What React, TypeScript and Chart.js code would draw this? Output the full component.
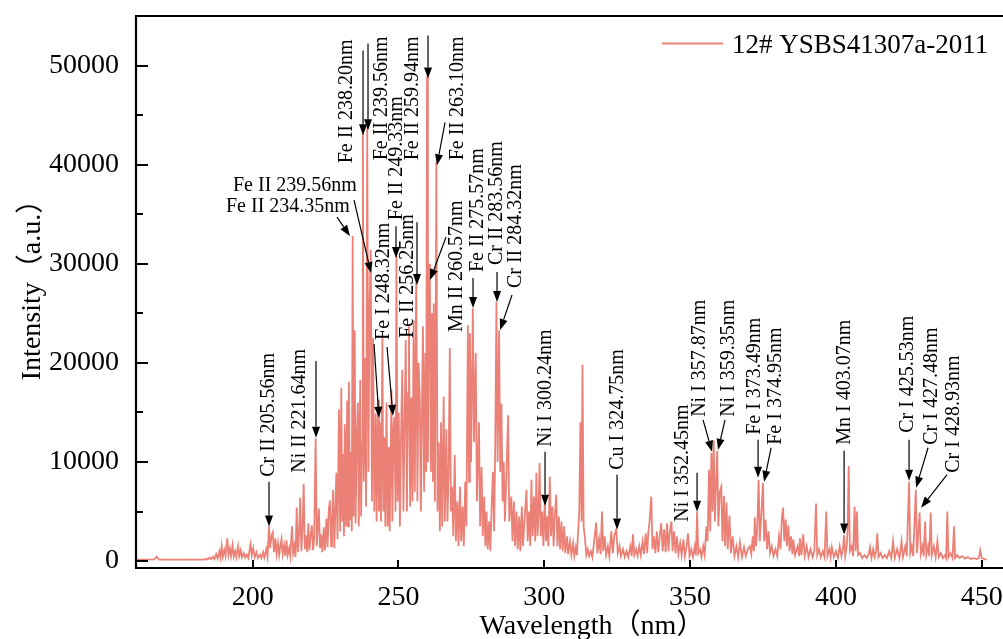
import React, { useEffect, useRef } from 'react';
import { Chart, registerables } from 'chart.js';

Chart.register(...registerables);

const SERIES_LABEL = '12# YSBS41307a-2011';
const X_TITLE = 'Wavelength（nm）';
const Y_TITLE = 'Intensity（a.u.）';
const LINE_COLOR = '#EB8176';
const SERIF = '"Liberation Serif", "Times New Roman", "Noto Sans CJK SC", serif';

const xTicks = [200, 250, 300, 350, 400, 450];
const yTicks = [0, 10000, 20000, 30000, 40000, 50000];
const yMinorTicks = [5000, 15000, 25000, 35000, 45000, 55000];

// [wavelength nm, intensity a.u.]
const band160to203: [number, number][] = [
  [160, 150], [166.3, 160], [167.1, 450], [167.9, 150], [183.5, 150], [184.2, 250], [184.6, 150],
  [185.3, 350], [185.8, 180], [186.4, 450], [186.9, 200], [187.5, 700], [188.0, 250], [188.6, 1000],
  [189.0, 350], [189.4, 1500], [189.8, 450], [190.3, 1100], [190.7, 500], [191.3, 2300], [191.7, 600],
  [192.2, 1300], [192.6, 500], [193.1, 1600], [193.5, 450], [194.0, 1000], [194.4, 400], [195.0, 1500],
  [195.4, 500], [195.9, 1100], [196.3, 400], [196.9, 800], [197.4, 350], [198.0, 650], [198.5, 300],
  [199.0, 1200], [199.3, 1700], [199.7, 600], [200.2, 1300], [200.7, 400], [201.3, 900], [201.8, 300],
  [202.5, 650], [203.0, 300],
];

const band203to228: [number, number][] = [
  [203.6, 900], [204.0, 350], [204.7, 1200], [205.1, 450], [205.6, 3500], [206.0, 1300], [206.5, 2600],
  [206.9, 2900], [207.3, 900], [207.8, 2300], [208.2, 700], [208.7, 1800], [209.1, 600], [209.5, 1500],
  [209.9, 2200], [210.3, 700], [210.8, 1600], [211.2, 500], [211.6, 2100], [212.0, 600], [212.5, 1300],
  [212.9, 500], [213.5, 3500], [213.9, 800], [214.3, 1500], [214.7, 400], [215.1, 5400], [215.5, 900],
  [215.9, 2600], [216.3, 6400], [216.7, 1000], [217.1, 3200], [217.5, 7800], [217.9, 1200], [218.3, 2600],
  [218.7, 900], [219.1, 3800], [219.5, 1100], [219.9, 2600], [220.3, 3600], [220.7, 1100], [221.1, 2200],
  [221.6, 12400], [222.0, 1500], [222.3, 3200], [222.7, 5300], [223.1, 1300], [223.5, 2700], [223.9, 900],
  [224.4, 3400], [224.8, 1100], [225.3, 4300], [225.7, 1400], [226.1, 5200], [226.5, 6100], [226.9, 1500],
  [227.2, 3600], [227.6, 7200], [228.0, 1300],
];

const band228to266: [number, number][] = [
  [228.3, 4600], [228.7, 8900], [229.1, 2200], [229.6, 15300], [230.0, 3000], [230.4, 17500], [230.7, 4000],
  [231.0, 10800], [231.3, 2500], [231.6, 13800], [232.0, 3500], [232.4, 16200], [232.7, 3500], [233.0, 18100],
  [233.4, 4200], [233.7, 11000], [234.0, 3000], [234.3, 32800], [234.6, 4500], [235.0, 23300], [235.3, 3800],
  [235.7, 12500], [236.1, 16000], [236.4, 3500], [236.9, 18300], [237.2, 4500], [237.5, 12000], [237.8, 43300],
  [238.1, 8000], [238.5, 20500], [238.9, 5500], [239.3, 43800], [239.7, 9000], [240.1, 26000], [240.5, 31400],
  [240.9, 6000], [241.3, 22500], [241.7, 5000], [242.2, 14900], [242.5, 4000], [243.0, 16300], [243.3, 5000],
  [243.6, 14000], [244.0, 4000], [244.5, 22500], [244.8, 5000], [245.2, 12500], [245.5, 3500], [245.9, 16000],
  [246.3, 3500], [246.7, 11500], [247.0, 3000], [247.6, 17300], [247.9, 4000], [248.3, 13500], [248.6, 14500],
  [249.0, 5000], [249.3, 31000], [249.7, 6000], [250.1, 15000], [250.5, 3500], [250.9, 13000], [251.3, 19300],
  [251.7, 5000], [252.1, 14000], [252.5, 22300], [252.9, 5000], [253.3, 17000], [253.6, 23700], [254.0, 5500],
  [254.4, 16500], [254.8, 6000], [255.2, 24300], [255.6, 7000], [256.1, 29000], [256.5, 6000], [256.9, 20000],
  [257.3, 16600], [257.7, 5000], [258.0, 14000], [258.4, 23700], [258.8, 7000], [259.2, 21000], [259.5, 9000],
  [259.8, 48900], [260.1, 10000], [260.5, 30000], [260.8, 27500], [261.1, 9000], [261.5, 25000], [261.8, 8000],
  [262.1, 26000], [262.5, 6000], [263.0, 40300], [263.4, 5000], [263.8, 12000], [264.2, 3000], [264.6, 14000],
  [265.0, 3500], [265.5, 16600], [265.9, 4000],
];

const band266to300: [number, number][] = [
  [266.4, 13300], [266.8, 4000], [267.2, 9000], [267.6, 21500], [268.0, 5000], [268.4, 7500], [268.8, 2500],
  [269.3, 10700], [269.7, 2000], [270.2, 6000], [270.6, 1500], [271.1, 7500], [271.5, 2000], [272.0, 5500],
  [272.4, 1500], [272.9, 8000], [273.3, 3500], [273.8, 23800], [274.2, 8000], [274.5, 23000], [274.9, 10000],
  [275.5, 25500], [275.9, 12000], [276.5, 21000], [276.9, 6000], [277.6, 14000], [278.0, 3500], [278.5, 9500],
  [278.9, 2500], [279.4, 6500], [279.8, 1500], [280.2, 5000], [280.6, 1200], [281.1, 4000], [281.5, 1000],
  [282.0, 6000], [282.4, 9000], [282.8, 3000], [283.2, 12000], [283.6, 26200], [284.0, 10000], [284.5, 23300],
  [284.9, 9000], [285.3, 15900], [285.7, 6000], [286.1, 10000], [286.5, 4000], [287.0, 8500], [287.6, 14700],
  [288.0, 4000], [288.7, 6500], [289.1, 2000], [289.6, 6000], [290.0, 1500], [290.5, 5000], [290.9, 1200],
  [291.4, 4500], [291.8, 1000], [292.3, 5500], [292.7, 1500], [293.2, 4000], [293.9, 7200], [294.3, 2000],
  [294.8, 5000], [295.2, 1500], [295.6, 8200], [296.0, 2500], [296.5, 6500], [296.9, 2000], [297.3, 8900],
  [297.7, 2500], [298.0, 4500], [298.4, 9900], [298.8, 2500], [299.3, 5000], [299.7, 1500],
];

const band300to340: [number, number][] = [
  [300.2, 6200], [300.6, 2000], [301.0, 4500], [301.4, 1500], [301.9, 8500], [302.3, 2500], [302.8, 5500],
  [303.2, 1500], [303.6, 4500], [304.1, 6700], [304.5, 1500], [305.0, 4500], [305.4, 1200], [305.9, 4000],
  [306.3, 1000], [306.8, 3500], [307.2, 800], [307.8, 2500], [308.2, 700], [308.8, 2000], [309.3, 600],
  [309.9, 1800], [310.3, 500], [310.8, 1400], [311.2, 600], [311.6, 3000], [312.0, 5000], [312.4, 14000],
  [312.8, 4000], [313.1, 19800], [313.5, 3500], [313.9, 2500], [314.4, 600], [314.9, 1200], [315.4, 500],
  [316.0, 1000], [316.5, 400], [317.1, 2000], [317.8, 3900], [318.2, 800], [318.8, 2200], [319.3, 700],
  [319.8, 5000], [320.2, 1000], [320.7, 2500], [321.2, 600], [321.8, 1500], [322.3, 500], [323.0, 3000],
  [323.5, 800], [324.0, 2500], [324.7, 3200], [325.2, 800], [325.8, 1500], [326.3, 500], [327.0, 1200],
  [327.6, 400], [328.2, 1000], [328.8, 400], [329.5, 1500], [330.0, 500], [330.4, 2700], [330.9, 600],
  [331.5, 1200], [332.0, 500], [332.6, 1500], [333.1, 600], [333.7, 2000], [334.2, 700], [334.8, 2800],
  [335.3, 800], [335.7, 3000], [336.1, 4000], [336.7, 6500], [337.1, 1200], [337.6, 2500], [338.1, 800],
  [338.6, 3000], [339.1, 900], [339.6, 2500],
];

const band340to380: [number, number][] = [
  [340.1, 3800], [340.6, 1000], [341.1, 3200], [341.6, 900], [342.1, 3800], [342.6, 1000], [343.0, 2800],
  [343.6, 4000], [344.0, 1000], [344.5, 3000], [345.0, 800], [345.5, 2500], [346.0, 700], [346.6, 1800],
  [347.1, 600], [347.7, 2200], [348.2, 500], [348.8, 1500], [349.3, 2800], [349.8, 500], [350.4, 1200],
  [351.0, 400], [351.6, 1500], [352.0, 600], [352.4, 5000], [352.8, 800], [353.4, 1200], [353.9, 400],
  [354.5, 1500], [355.0, 600], [355.6, 3500], [356.0, 2000], [356.5, 9200], [356.9, 3000], [357.3, 10900],
  [357.7, 5000], [358.1, 12200], [358.5, 4000], [358.9, 8000], [359.3, 11100], [359.7, 3500], [360.2, 7000],
  [360.7, 7500], [361.1, 2000], [361.6, 6600], [362.0, 1500], [362.5, 5900], [362.9, 1200], [363.5, 4600],
  [364.0, 800], [364.6, 2500], [365.2, 500], [365.9, 1500], [366.5, 400], [367.1, 1900], [367.8, 400],
  [368.5, 1400], [369.1, 500], [369.8, 1200], [370.5, 1500], [371.0, 700], [371.5, 2500], [371.9, 1000],
  [372.2, 4400], [372.6, 1500], [373.0, 3000], [373.5, 8200], [373.9, 2000], [374.3, 4000], [375.0, 7900],
  [375.4, 2000], [375.9, 4200], [376.4, 1200], [376.9, 3000], [377.4, 800], [378.0, 1500], [378.6, 500],
  [379.3, 1200], [379.9, 500],
];

const band380to452: [number, number][] = [
  [380.5, 2500], [381.0, 1200], [381.5, 4500], [381.9, 5400], [382.3, 2000], [382.8, 4200], [383.2, 1500],
  [383.7, 3600], [384.1, 1000], [384.6, 2500], [385.1, 700], [385.4, 2200], [386.0, 600], [386.9, 1500],
  [387.4, 500], [387.7, 2300], [388.2, 600], [388.8, 2700], [389.3, 500], [390.0, 1500], [390.6, 400],
  [391.3, 1200], [392.0, 400], [392.6, 1000], [393.2, 5800], [393.6, 600], [394.2, 1200], [394.8, 400],
  [395.5, 1000], [396.1, 400], [396.7, 5000], [397.1, 500], [397.8, 1200], [398.2, 400], [398.6, 1400],
  [399.3, 400], [400.0, 1000], [400.7, 300], [401.3, 1500], [401.9, 500], [402.4, 1200], [402.8, 2600],
  [403.2, 500], [403.7, 1500], [404.0, 3000], [404.4, 9600], [404.8, 1000], [405.4, 1500], [405.9, 500],
  [406.4, 5500], [406.8, 1000], [407.2, 5000], [407.6, 600], [408.3, 800], [409.0, 300], [409.8, 600],
  [410.6, 300], [411.2, 700], [411.7, 1400], [412.2, 300], [412.8, 1200], [413.3, 400], [413.8, 1000],
  [414.2, 2800], [414.6, 400], [415.3, 800], [416.0, 300], [416.8, 600], [417.5, 300], [418.3, 1000],
  [419.0, 300], [419.6, 2000], [420.2, 300], [421.0, 1200], [421.8, 300], [422.5, 2000], [423.0, 400],
  [423.8, 1500], [424.3, 500], [425.1, 8000], [425.5, 800], [426.0, 1500], [426.5, 500], [427.4, 7200],
  [427.8, 800], [428.7, 4900], [429.1, 700], [429.7, 1500], [430.1, 500], [430.6, 4000], [431.0, 600],
  [431.6, 1500], [432.0, 500], [432.5, 4900], [432.9, 600], [433.6, 1500], [434.2, 400], [434.8, 2000],
  [435.3, 400], [436.0, 800], [436.7, 300], [437.4, 600], [437.8, 300], [438.2, 5000], [438.6, 400],
  [439.3, 800], [440.0, 300], [440.5, 3500], [440.9, 300], [441.6, 600], [442.4, 300], [443.3, 500],
  [444.2, 250], [445.2, 400], [446.2, 200], [447.3, 300], [448.3, 200], [449.0, 300], [449.5, 1100],
  [450.0, 300], [451.0, 200], [451.7, 150],
];

type Note = {
  text: string;
  at: [number, number]; // vertical: [centre nm, intensity at text start]; horizontal: [left nm, baseline intensity]
  vertical: boolean;
  arrows: [number, number, number, number][]; // [from nm, from I, to nm, to I]
};

const notes: Note[] = [
  { text: 'Cr II 205.56nm', at: [205.61, 8511], vertical: true, arrows: [[205.61, 8007, 205.61, 3475]] },
  { text: 'Ni II 221.64nm', at: [216.24, 8914], vertical: true, arrows: [[221.73, 20195, 221.73, 12439]] },
  { text: 'Fe II 234.35nm', at: [190.86, 35203], vertical: false, arrows: [[228.93, 34699, 233.39, 32785]] },
  { text: 'Fe II 239.56nm', at: [193.26, 37317], vertical: false, arrows: [[234.76, 36411, 240.59, 29058]] },
  {
    text: 'Fe II 238.20nm', at: [232.36, 40138], vertical: true,
    arrows: [[237.85, 51518, 237.85, 42958], [239.56, 52224, 239.56, 43461]],
  },
  { text: 'Fe II 239.56nm', at: [244.36, 40440], vertical: true, arrows: [] },
  { text: 'Fe II 249.33nm', at: [249.51, 34396], vertical: true, arrows: [[249.16, 33792, 249.16, 30569]] },
  {
    text: 'Fe I 248.32nm', at: [245.05, 22310], vertical: true,
    arrows: [[241.62, 21907, 243.33, 14454], [246.08, 21605, 248.13, 14655]],
  },
  { text: 'Fe II 256.25nm', at: [253.28, 22511], vertical: true, arrows: [[256.36, 34195, 256.36, 27849]] },
  { text: 'Fe II 259.94nm', at: [254.99, 40440], vertical: true, arrows: [[260.14, 53029, 260.14, 48698]] },
  { text: 'Fe II 263.10nm', at: [270.43, 40440], vertical: true, arrows: [[265.97, 44267, 263.22, 39936]] },
  { text: 'Mn II 260.57nm', at: [270.08, 23115], vertical: true, arrows: [[266.31, 32684, 260.82, 28353]] },
  { text: 'Fe II 275.57nm', at: [277.28, 29159], vertical: true, arrows: [[275.57, 28554, 275.57, 25533]] },
  { text: 'Cr II 283.56nm', at: [283.8, 29864], vertical: true, arrows: [[283.8, 29159, 283.8, 26137]] },
  { text: 'Cr II 284.32nm', at: [290.32, 27547], vertical: true, arrows: [[288.94, 26842, 284.83, 23316]] },
  { text: 'Ni I 300.24nm', at: [300.6, 11532], vertical: true, arrows: [[300.26, 11029, 300.26, 5590]] },
  { text: 'Cu I 324.75nm', at: [325.29, 9216], vertical: true, arrows: [[324.95, 8712, 324.95, 3173]] },
  { text: 'Ni I 352.45nm', at: [347.58, 3978], vertical: true, arrows: [[352.39, 8914, 352.39, 4986]] },
  { text: 'Ni I 357.87nm', at: [353.42, 14554], vertical: true, arrows: [[354.44, 14252, 357.53, 11029]] },
  { text: 'Ni I 359.35nm', at: [363.37, 14554], vertical: true, arrows: [[361.99, 14252, 359.59, 11230]] },
  { text: 'Fe I 373.49nm', at: [372.28, 12741], vertical: true, arrows: [[373.31, 12237, 373.31, 8410]] },
  { text: 'Fe I 374.95nm', at: [379.49, 11734], vertical: true, arrows: [[377.78, 11432, 375.38, 8007]] },
  { text: 'Mn I 403.07nm', at: [403.16, 11734], vertical: true, arrows: [[402.81, 11130, 402.81, 2669]] },
  { text: 'Cr I 425.53nm', at: [424.75, 12943], vertical: true, arrows: [[425.09, 12237, 425.09, 8108]] },
  { text: 'Cr I 427.48nm', at: [432.98, 11734], vertical: true, arrows: [[431.6, 11432, 427.49, 7403]] },
  { text: 'Cr I 428.93nm', at: [440.52, 8914], vertical: true, arrows: [[438.12, 8712, 429.2, 5389]] },
];

const spectrum = [
  ...band160to203, ...band203to228, ...band228to266, ...band266to300,
  ...band300to340, ...band340to380, ...band380to452,
].map(([x, y]) => ({ x, y }));

function drawArrow(ctx: CanvasRenderingContext2D, x1: number, y1: number, x2: number, y2: number) {
  const ang = Math.atan2(y2 - y1, x2 - x1);
  const len = 11;
  const half = 4;
  const bx = x2 - len * Math.cos(ang);
  const by = y2 - len * Math.sin(ang);
  ctx.beginPath();
  ctx.moveTo(x1, y1);
  ctx.lineTo(bx, by);
  ctx.stroke();
  ctx.beginPath();
  ctx.moveTo(x2, y2);
  ctx.lineTo(bx + half * Math.sin(ang), by - half * Math.cos(ang));
  ctx.lineTo(bx - half * Math.sin(ang), by + half * Math.cos(ang));
  ctx.closePath();
  ctx.fill();
}

const decorPlugin = {
  id: 'decor',
  afterDatasetsDraw(chart: any) {
    const { ctx, chartArea: a, scales } = chart;
    const xs = scales.x;
    const ys = scales.y;
    ctx.save();
    ctx.strokeStyle = '#000';
    ctx.fillStyle = '#000';
    ctx.lineWidth = 2.2;
    ctx.lineCap = 'butt';
    ctx.beginPath();
    ctx.moveTo(a.left, a.top);
    ctx.lineTo(a.right + 4, a.top);
    ctx.moveTo(a.left, a.top - 1);
    ctx.lineTo(a.left, a.bottom + 1);
    ctx.moveTo(a.left - 1, a.bottom);
    ctx.lineTo(a.right + 4, a.bottom);
    ctx.stroke();

    ctx.lineWidth = 2;
    ctx.beginPath();
    for (const v of yTicks) {
      const p = Math.round(ys.getPixelForValue(v));
      ctx.moveTo(a.left, p);
      ctx.lineTo(a.left + 12, p);
    }
    for (const v of yMinorTicks) {
      const p = Math.round(ys.getPixelForValue(v));
      ctx.moveTo(a.left, p);
      ctx.lineTo(a.left + 7, p);
    }
    for (const v of xTicks) {
      const p = Math.round(xs.getPixelForValue(v));
      ctx.moveTo(p, a.bottom);
      ctx.lineTo(p, a.bottom - 8);
    }
    ctx.stroke();

    // annotations
    ctx.lineWidth = 1.2;
    ctx.font = `20px ${SERIF}`;
    for (const n of notes) {
      const px = xs.getPixelForValue(n.at[0]);
      const py = ys.getPixelForValue(n.at[1]);
      if (n.vertical) {
        ctx.save();
        ctx.translate(px, py);
        ctx.rotate(-Math.PI / 2);
        ctx.textAlign = 'left';
        ctx.textBaseline = 'middle';
        ctx.fillText(n.text, 0, 0);
        ctx.restore();
      } else {
        ctx.textAlign = 'left';
        ctx.textBaseline = 'alphabetic';
        ctx.fillText(n.text, px, py);
      }
      for (const ar of n.arrows) {
        drawArrow(
          ctx,
          xs.getPixelForValue(ar[0]), ys.getPixelForValue(ar[1]),
          xs.getPixelForValue(ar[2]), ys.getPixelForValue(ar[3]),
        );
      }
    }

    // legend
    ctx.strokeStyle = LINE_COLOR;
    ctx.lineWidth = 2;
    ctx.beginPath();
    ctx.moveTo(662, 43.5);
    ctx.lineTo(723, 43.5);
    ctx.stroke();
    ctx.fillStyle = '#000';
    ctx.font = `27px ${SERIF}`;
    ctx.textAlign = 'left';
    ctx.textBaseline = 'alphabetic';
    ctx.fillText(SERIES_LABEL, 732, 53);

    // axis titles
    ctx.font = `28px ${SERIF}`;
    ctx.textAlign = 'center';
    ctx.fillText(X_TITLE, 592, 634);
    ctx.save();
    ctx.translate(40, 283);
    ctx.rotate(-Math.PI / 2);
    ctx.textAlign = 'center';
    ctx.textBaseline = 'alphabetic';
    ctx.fillText(Y_TITLE, 0, 0);
    ctx.restore();
    ctx.restore();
  },
};

export default function App() {
  const ref = useRef<HTMLCanvasElement | null>(null);
  useEffect(() => {
    if (!ref.current) return;
    const chart = new Chart(ref.current, {
      type: 'line',
      data: {
        datasets: [
          {
            label: SERIES_LABEL,
            data: spectrum,
            borderColor: LINE_COLOR,
            backgroundColor: LINE_COLOR,
            borderWidth: 1.8,
            pointRadius: 0,
            tension: 0,
            fill: false,
          },
        ],
      },
      options: {
        animation: false,
        responsive: false,
        devicePixelRatio: 1,
        events: [],
        layout: { padding: { top: 16, right: 0, left: 0, bottom: 0 } },
        plugins: { legend: { display: false }, tooltip: { enabled: false } },
        scales: {
          x: {
            type: 'linear',
            min: 160,
            max: 457.3,
            grid: { display: false, drawTicks: false },
            border: { display: false },
            ticks: {
              color: '#000',
              font: { family: SERIF, size: 28 },
              padding: 13,
              maxRotation: 0,
              autoSkip: false,
              callback: (v: any) => String(v),
            },
            afterBuildTicks: (s: any) => {
              s.ticks = xTicks.map((v) => ({ value: v }));
            },
            afterFit: (s: any) => {
              s.height = 71;
              s.paddingLeft = 0;
              s.paddingRight = 0;
            },
          },
          y: {
            type: 'linear',
            min: -700,
            max: 55000,
            grid: { display: false, drawTicks: false },
            border: { display: false },
            ticks: {
              color: '#000',
              font: { family: SERIF, size: 28 },
              padding: 17,
              autoSkip: false,
              callback: (v: any) => String(v),
            },
            afterBuildTicks: (s: any) => {
              s.ticks = yTicks.map((v) => ({ value: v }));
            },
            afterFit: (s: any) => {
              s.width = 136;
              s.paddingTop = 0;
              s.paddingBottom = 0;
            },
          },
        },
      },
      plugins: [decorPlugin],
    });
    return () => chart.destroy();
  }, []);
  return (
    <div style={{ position: 'fixed', left: 0, top: 0, width: 1003, height: 639, background: '#fff', overflow: 'hidden' }}>
      <canvas ref={ref} width={1003} height={639} style={{ display: 'block' }} />
    </div>
  );
}
